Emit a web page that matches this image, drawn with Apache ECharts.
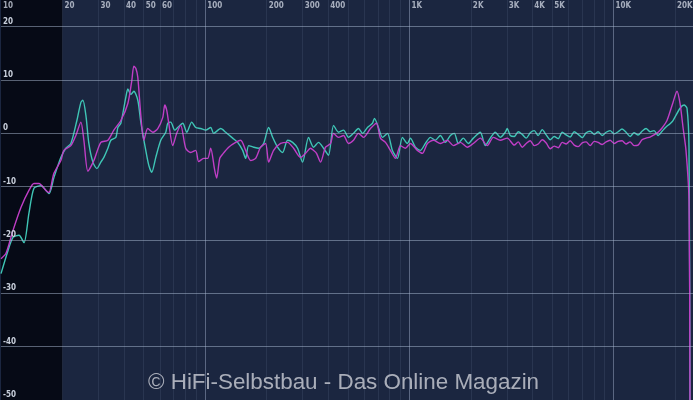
<!DOCTYPE html>
<html>
<head>
<meta charset="utf-8">
<script src="https://cdn.jsdelivr.net/npm/echarts@6/dist/echarts.min.js"></script>
<style>
html,body{margin:0;padding:0;background:#1b2640;}
#c{width:693px;height:400px;}
</style>
</head>
<body>
<div id="c"></div>
<script>
// Frequency tick labels (top)
const tickFreqs = [10,20,30,40,50,60,100,200,300,400,1000,2000,3000,4000,5000,10000,20000];
const tickLabels = ['10','20','30','40','50','60','100','200','300','400','1K','2K','3K','4K','5K','10K','20K'];
const minorLines = [20,30,40,50,60,70,80,90,200,300,400,500,600,700,800,900,2000,3000,4000,5000,6000,7000,8000,9000,20000];
const majorLines = [100,1000,10000];
const levelLines = [-40,-30,-20,-10,0,10,20];

// Magenta curve: [Hz, dB]
const magenta = [[10,-23.5],[10.58,-22.5],[11.45,-18.2],[12.52,-13.9],[13.70,-10.7],[14.50,-9.4],[15.34,-9.4],[16.60,-10.7],[17.17,-11.1],[18.16,-7.5],[19.65,-5.1],[20.33,-3.2],[21.99,-2.3],[23.26,-0.4],[24.62,2.1],[25.46,-1.3],[26.64,-7.1],[28.50,-5.1],[30.83,-1.7],[33.37,-1.3],[35.70,0.6],[38.63,2.4],[41.80,5.6],[43.71,9.9],[44.72,12.6],[45.73,12.2],[46.77,10.5],[48.38,3.4],[50.04,-1.3],[52.34,0.9],[55.38,0.2],[58.58,0.9],[61.98,3.0],[63.39,5.3],[64.82,4.3],[66.30,1.9],[69.35,-2.3],[72.53,0],[75.88,1.5],[80.28,-2.8],[84.92,-3.6],[89.84,-3.2],[92.93,-5.3],[98.33,-4.7],[102.8,-4.7],[106.4,-2.8],[111.3,-6.9],[113.8,-8.4],[117.8,-4.7],[121.8,-3.9],[130.3,-2.6],[141.0,-1.7],[149.2,-1.3],[157.8,-3.2],[167.0,-5.1],[176.6,-4.7],[186.8,-2.6],[197.6,-1.9],[204.5,-5.4],[216.3,-3.2],[234.0,-1.9],[253.2,-1.7],[270.9,-2.8],[293.1,-4.5],[310.1,-3.75],[328.0,-2.8],[339.3,-3.2],[350.9,-3.75],[367.2,-5.4],[388.4,-2.6],[411.0,-1.9],[425.1,0],[449.7,-0.75],[475.8,-0.4],[503.0,-1.9],[532.3,-1.3],[563.1,0],[595.8,-0.75],[644.6,0.9],[689.6,1.9],[721.4,-0.9],[763.2,-1.7],[807.4,-3.2],[854.2,-4.7],[903.6,-2.3],[955.9,-2.8],[1011,-1.9],[1094,-3.2],[1158,-3.75],[1225,-1.9],[1311,-1.3],[1418,-1.9],[1534,-1.3],[1641,-2.3],[1776,-1.7],[1921,-2.6],[2056,-1.9],[2225,-0.9],[2406,-2.3],[2576,-0.75],[2786,-1.3],[3015,-0.9],[3261,-2.2],[3412,-1.6],[3569,-2.6],[3734,-1.9],[3906,-1.4],[4086,-2.3],[4274,-2.0],[4470,-1.2],[4677,-1.8],[4893,-2.9],[5117,-2.4],[5353,-2.7],[5601,-1.7],[5858,-2.0],[6129,-1.4],[6411,-2.2],[6707,-2.5],[7016,-1.8],[7337,-1.6],[7677,-2.3],[8029,-1.5],[8400,-1.7],[8788,-2.1],[9189,-1.6],[9614,-1.3],[10060,-1.9],[10520,-1.5],[11000,-1.4],[11510,-2.0],[12040,-1.6],[12590,-2.3],[13180,-2.2],[13780,-1.2],[14420,-0.9],[15080,-0.7],[15780,-0.3],[16500,0.2],[17270,1.0],[18260,2.4],[19540,5.8],[20440,7.9],[21150,5.6],[21880,1.1],[22620,-3.2],[23400,-12.6],[23660,-50]];

// Cyan curve: [Hz, dB]
const cyan = [[10,-26.3],[10.82,-22.0],[11.45,-19.5],[12.25,-19.1],[12.96,-20.5],[13.70,-15.0],[14.50,-10.3],[15.69,-9.8],[17.17,-11.3],[18.16,-8.3],[19.65,-4.5],[20.78,-2.8],[21.99,-1.9],[23.53,2.4],[24.62,5.8],[25.18,6.2],[26.04,3.4],[26.93,-1.9],[28.18,-5.4],[29.47,-6.6],[30.83,-5.4],[31.90,-4.5],[33.37,-2.8],[34.51,-1.3],[36.51,-0.75],[37.35,1.1],[38.63,1.9],[40.87,6.8],[41.80,8.3],[43.23,7.3],[44.72,7.9],[46.77,6.2],[48.38,2.1],[51.17,-3.2],[52.94,-6.0],[54.75,-7.3],[57.28,-4.5],[60.59,-1.3],[64.10,0.2],[65.55,1.9],[67.81,2.1],[70.93,0.6],[73.36,1.1],[77.62,1.9],[81.19,0.2],[85.90,2.1],[89.84,1.1],[95.06,0.9],[100.6,0.6],[106.4,1.1],[110.0,0],[119.1,0.9],[126.0,0.2],[136.3,-0.9],[144.2,-1.7],[152.6,-3.2],[157.8,-4.7],[163.2,-2.3],[172.7,-2.6],[182.7,-2.8],[193.2,-1.9],[204.5,1.1],[213.9,-0.75],[226.2,-2.6],[239.3,-3.6],[253.2,-1.3],[267.9,-1.7],[283.4,-2.8],[299.8,-5.4],[320.7,-0.75],[339.3,-2.6],[358.9,-1.7],[379.8,-2.8],[401.8,-4.1],[425.1,1.5],[449.7,0.2],[475.8,0.6],[503.0,-0.75],[532.3,0],[563.1,0.9],[589.1,0],[623.2,1.1],[659.3,1.9],[674.3,2.8],[705.3,1.1],[737.9,-0.75],[780.6,0],[825.8,-3.2],[873.6,-4.7],[924.2,-0.75],[977.7,-1.9],[1011,-0.9],[1070,-2.6],[1132,-3.2],[1197,-1.9],[1267,-0.75],[1340,-1.3],[1418,-0.4],[1500,-1.7],[1587,-0.4],[1660,0],[1736,-1.9],[1837,-0.9],[1943,-1.9],[2056,-0.9],[2225,0.2],[2353,-2.3],[2490,-0.9],[2634,0.2],[2786,-0.75],[2947,0.2],[3015,0.9],[3118,-0.4],[3261,-0.6],[3412,0.3],[3569,-0.2],[3734,-0.9],[3906,0.1],[4086,0.5],[4274,-0.4],[4470,0.7],[4677,-0.3],[4893,-1.2],[5117,-0.6],[5353,-1.0],[5601,0.2],[5858,-0.3],[6129,-0.7],[6411,0.3],[6707,-0.2],[7016,-0.8],[7337,0.1],[7677,0.4],[8029,-0.2],[8400,0.3],[8788,-0.4],[9189,0.2],[9614,0.5],[10060,-0.1],[10520,0.3],[11000,0.8],[11510,0.2],[12040,-0.6],[12590,0.1],[13180,-0.3],[13780,0.4],[14420,0.9],[15080,0.3],[15780,0.5],[16500,-0.4],[17270,0.4],[18060,1.2],[18900,1.8],[19540,2.4],[21150,4.7],[22120,5.3],[22880,4.7],[23400,-2.6],[23660,-50]];

const labelFont = '"DejaVu Sans Condensed", "Liberation Sans Narrow", sans-serif';

const chart = echarts.init(document.getElementById('c'), null, {renderer: 'canvas'});
chart.setOption({
  animation: false,
  backgroundColor: '#1b2640',
  grid: {left: 0, right: 0, top: 0, bottom: 0, containLabel: false},
  xAxis: {
    type: 'log', logBase: 10, min: 10, max: 24480,
    axisLine: {show: false}, axisTick: {show: false}, axisLabel: {show: false},
    splitLine: {show: false}
  },
  yAxis: {
    type: 'value', min: -50, max: 25, interval: 10, z: 10,
    axisLine: {show: false}, axisTick: {show: false},
    splitLine: {show: false},
    axisLabel: {
      inside: true, margin: 2, verticalAlign: 'bottom', align: 'left',
      color: '#c9d0dc', fontSize: 8, fontFamily: labelFont, fontWeight: 'bold',
      padding: [0, 0, 1, 0],
      formatter: v => (v % 10 === 0 ? String(v) : '')
    }
  },
  series: [
    {
      name: 'grid', type: 'line', data: [], silent: true,
      markArea: {
        silent: true,
        itemStyle: {color: '#060a16'},
        data: [[{xAxis: 10}, {xAxis: 20}]]
      },
      markLine: {
        silent: true, symbol: 'none', animation: false,
        label: {show: false},
        data: [
          ...minorLines.map(f => ({xAxis: f, lineStyle: {color: 'rgba(150,165,195,0.12)', width: 1, type: 'solid'}})),
          ...majorLines.map(f => ({xAxis: f, lineStyle: {color: 'rgba(170,185,210,0.45)', width: 1, type: 'solid'}})),
          ...levelLines.map(v => ({yAxis: v, lineStyle: {color: 'rgba(170,185,210,0.5)', width: 1, type: 'solid'}}))
        ]
      }
    },
    {
      name: 'Cyan', type: 'line', data: cyan,
      showSymbol: false, smooth: 0.25,
      lineStyle: {color: '#3fc6b6', width: 1.4}
    },
    {
      name: 'Magenta', type: 'line', data: magenta,
      showSymbol: false, smooth: 0.25,
      lineStyle: {color: '#c03ec6', width: 1.4}
    },
    {
      name: 'ticks', type: 'scatter', symbolSize: 0, silent: true, z: 10,
      data: tickFreqs.map((f, i) => ({value: [f, 25], name: tickLabels[i]})),
      label: {
        show: true, position: 'right', distance: 2, offset: [0, 6],
        formatter: p => p.name,
        color: '#c9d0dc', fontSize: 8, fontFamily: labelFont, fontWeight: 'bold'
      }
    }
  ],
  graphic: [{
    type: 'text', left: 148, top: 372, silent: true, z: 20,
    style: {
      text: '© HiFi-Selbstbau - Das Online Magazin',
      fill: 'rgba(205,208,215,0.8)',
      font: '22.4px "Liberation Sans", Arial, sans-serif'
    }
  }]
});
</script>
</body>
</html>
